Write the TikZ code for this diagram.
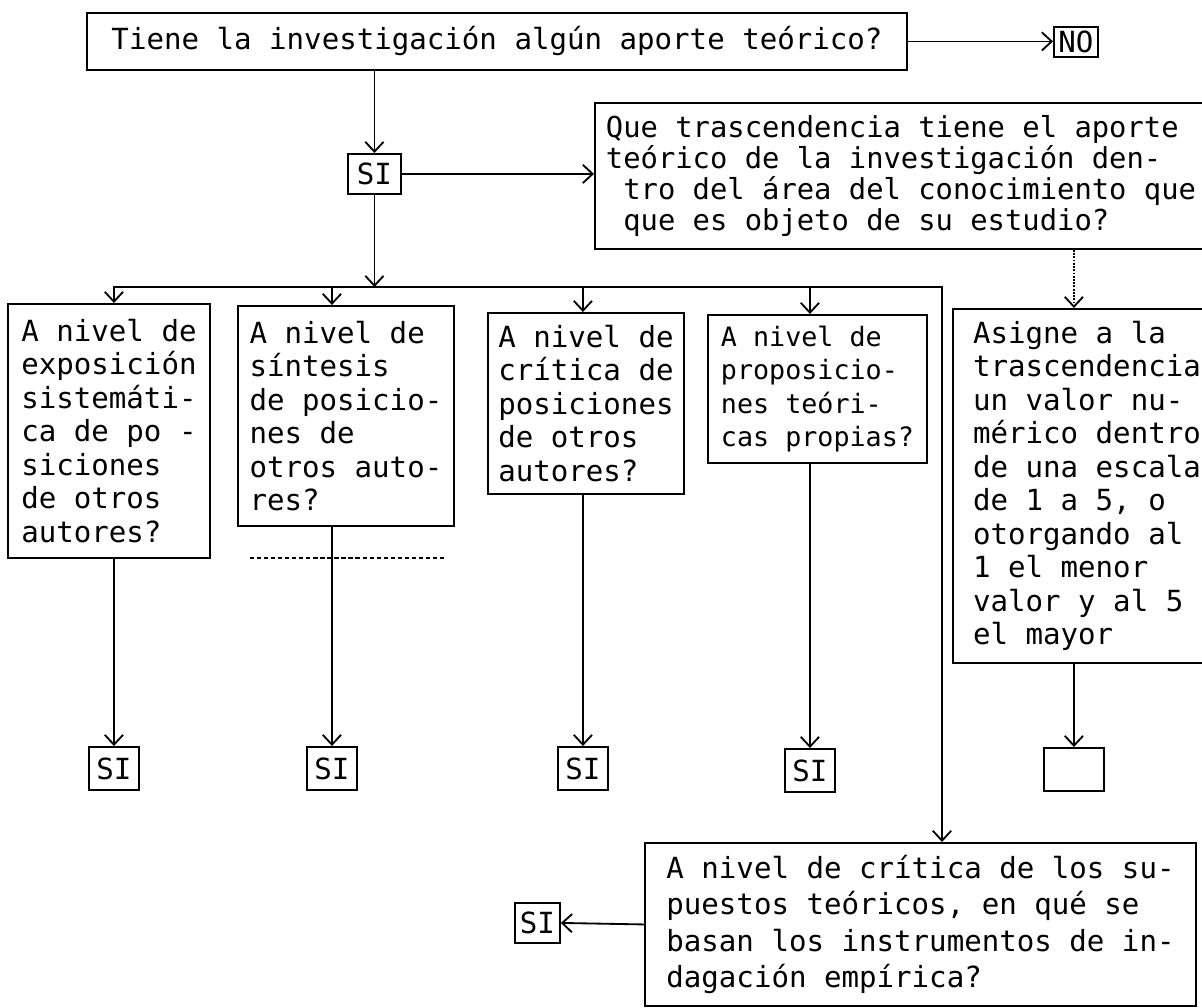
\documentclass[tikz,border=0pt]{standalone}
\usepackage{fontspec}
\setmonofont{DejaVu Sans Mono}
\usetikzlibrary{arrows.meta}

\begin{document}
\begin{tikzpicture}[x=0.025cm, y=-0.025cm,
    box/.style={draw, line width=1.3pt, align=left, anchor=north west, inner sep=0pt,
                font=\ttfamily\fontsize{20.7}{23.8}\selectfont},
    sibox/.style={box, align=center, minimum width=1.25cm, minimum height=1.075cm},
    conn/.style={line width=1.3pt, -{Straight Barb[length=7pt,width=13pt]}}]
        \fill[white] (0,0) rectangle (1202,1007);
        \useasboundingbox (0,0) rectangle (1202,1007);
        % question and first answers
        \node[box, minimum width=20.5cm, minimum height=1.425cm] (top) at (86,12)
            {Tiene la investigación algún aporte teórico?};
        \node[box, align=center, minimum width=1.1cm, minimum height=0.75cm] (no) at (1053,26) {NO};
        \node[box, align=center, minimum width=1.325cm, minimum height=1cm] (si0) at (347,153) {SI};
        \node[box, minimum width=15.3cm, minimum height=3.65cm,
              font=\ttfamily\fontsize{20.5}{22}\selectfont] (que) at (594,102)
            {Que trascendencia tiene el aporte\\teórico de la investigación den-\\\hphantom{x}tro del área del conocimiento que\\\hphantom{x}que es objeto de su estudio?};
        % the five columns
        \node[box, minimum width=5.05cm, minimum height=6.35cm] (col1) at (7,303)
            {A nivel de\\exposición\\sistemáti-\\ca de po -\\siciones\\de otros\\autores?};
        \node[box, minimum width=5.4cm, minimum height=5.5cm] (col2) at (237,305)
            {A nivel de\\síntesis\\de posicio-\\nes de\\otros auto-\\res?};
        \node[box, minimum width=4.9cm, minimum height=4.525cm] (col3) at (487,312)
            {A nivel de\\crítica de\\posiciones\\de otros\\autores?};
        \node[box, minimum width=5.475cm, minimum height=3.7cm,
              font=\ttfamily\fontsize{19}{23.8}\selectfont] (col4) at (707,314)
            {A nivel de\\proposicio-\\nes teóri-\\cas propias?};
        \node[box, minimum width=6.7cm, minimum height=8.85cm] (col5) at (952,308)
            {Asigne a la\\trascendencia\\un valor nu-\\mérico dentro\\de una escala\\de 1 a 5, o\\otorgando al\\1 el menor\\valor y al 5\\el mayor};
        \node[sibox] (si1) at (88,746) {SI};
        \node[sibox] (si2) at (306,746) {SI};
        \node[sibox] (si3) at (557,746) {SI};
        \node[sibox] (si4) at (784,748) {SI};
        \node[sibox, minimum width=1.5cm] (e5) at (1043,747) {};
        % last question
        \node[box, minimum width=13.775cm, minimum height=4.075cm,
              font=\ttfamily\fontsize{20.7}{26}\selectfont] (crit) at (644,842)
            {A nivel de crítica de los su-\\puestos teóricos, en qué se\\basan los instrumentos de in-\\dagación empírica?};
        \node[sibox, minimum width=1.125cm, minimum height=1cm] (sib) at (514,902) {SI};
        \coordinate (bl) at (113,287);
        \coordinate (br) at (942,287);
        \draw[conn] (top.east) -- (top.east -| no.west);
        \draw[conn] (si0.north |- top.south) -- (si0.north);
        \draw[conn] (si0.east) -- (si0.east -| que.west);
        \draw[conn] (si0.south) -- (si0.south |- bl);
        \draw[conn] (bl) -- (br) -- (br |- crit.north);
        \draw[conn] (si1 |- bl) -- (si1 |- col1.north);
        \draw[conn] (si2 |- bl) -- (si2 |- col2.north);
        \draw[conn] (si3 |- bl) -- (si3 |- col3.north);
        \draw[conn] (si4 |- bl) -- (si4 |- col4.north);
        \draw[conn, densely dotted] (e5 |- que.south) -- (e5 |- col5.north);
        \draw[conn] (si1 |- col1.south) -- (si1.north);
        \draw[conn] (si2 |- col2.south) -- (si2.north);
        \draw[conn] (si3 |- col3.south) -- (si3.north);
        \draw[conn] (si4 |- col4.south) -- (si4.north);
        \draw[conn] (e5 |- col5.south) -- (e5.north);
        \draw[conn] (crit.west) -- (sib.east);
        \draw[line width=0.8pt, densely dashed] (250,558) -- (445,558);
\end{tikzpicture}
\end{document}
